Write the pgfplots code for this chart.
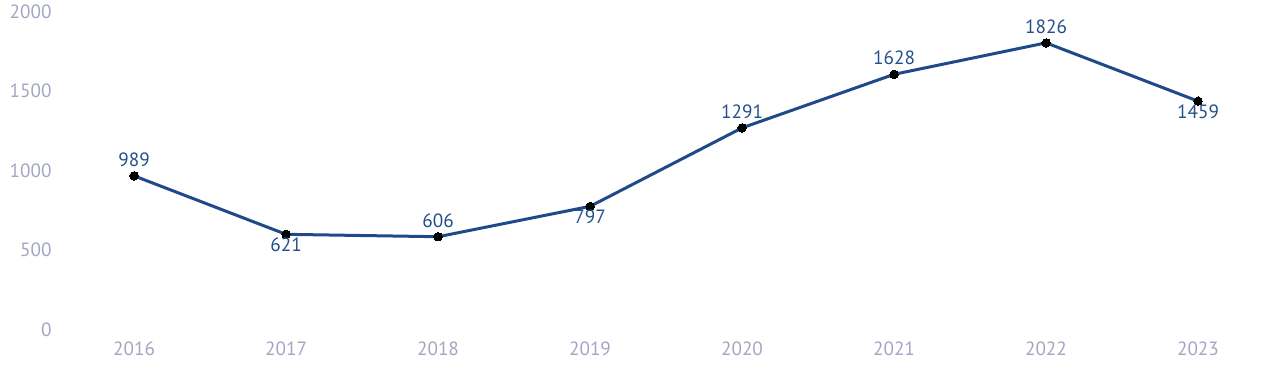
\documentclass[border=0pt]{standalone}
\usepackage{pgfplots}
\pgfplotsset{compat=1.18}
\usepackage{fontspec}
\setmainfont{PT Sans}
\definecolor{tickc}{HTML}{A3A6C2}
\definecolor{linec}{HTML}{1F4A8A}
\definecolor{labc}{HTML}{24508C}
\begin{document}
\begin{tikzpicture}
\begin{axis}[
  at={(0pt,24.5pt)}, anchor=south west,
  scale only axis, width=640pt, height=158.9pt,
  xmin=2015.118, xmax=2023.539, ymin=0, ymax=2000,
  axis line style={draw=none}, tick style={draw=none},
  xtick={2016,...,2023}, ytick={0,500,1000,1500,2000},
  /pgf/number format/1000 sep={},
  /pgf/number format/assume math mode=true,
  ticklabel style={font=\fontsize{9.6}{11}\selectfont, text=tickc},
  yticklabel style={anchor=east, xshift=29.3pt, yshift=1.75pt},
  xticklabel style={anchor=center, yshift=-8pt},
  clip=false,
  nodes near coords,
  visualization depends on={\thisrow{shift} \as \sh},
  every node near coord/.style={anchor=center, yshift=\sh pt, font=\fontsize{9.6}{11}\selectfont, text=labc},
]
\addplot[color=linec, line width=1.5pt, mark=*, mark size=2.1pt,
  mark options={fill=black, draw=black, line width=0pt}]
  table[x=year, y=val] {
year val shift
2016 989 8.2
2017 621 -5.3
2018 606 8.2
2019 797 -5.3
2020 1291 8.2
2021 1628 8.2
2022 1826 8.2
2023 1459 -5.3
};
\end{axis}
\pgfresetboundingbox
\path[use as bounding box] (0,0) rectangle (640pt,191pt);
\end{tikzpicture}
\end{document}
